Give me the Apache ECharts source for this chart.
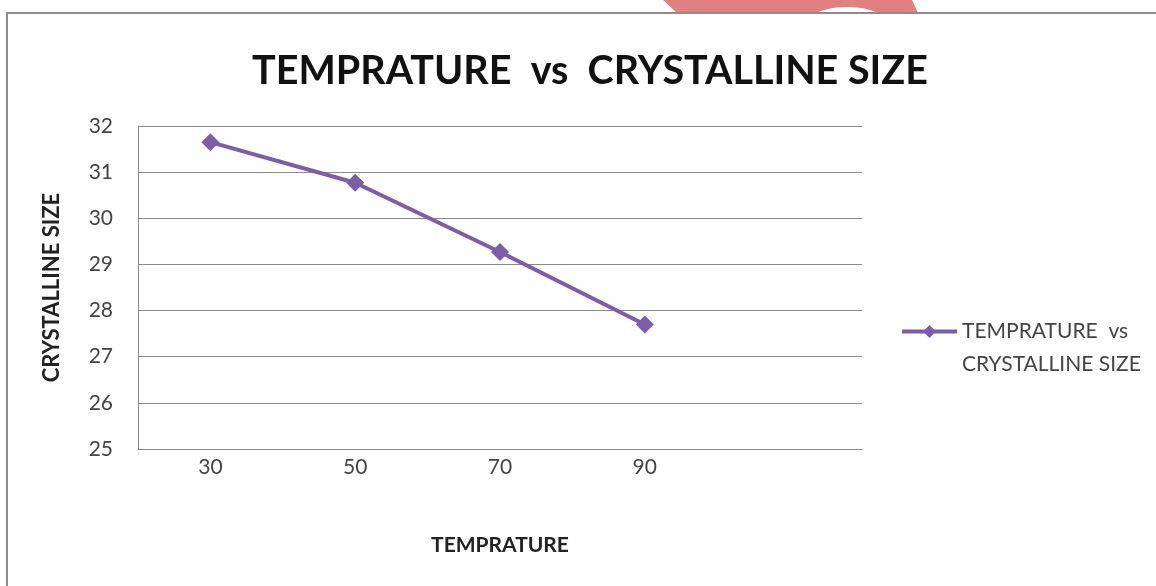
<!DOCTYPE html>
<html>
<head>
<meta charset="utf-8">
<script src="https://cdn.jsdelivr.net/npm/echarts@6/dist/echarts.min.js"></script>
<style>html,body{margin:0;padding:0;background:#fff}#c{width:1156px;height:586px}</style>
</head>
<body>
<div id="c"></div>
<script>
const categories = ['30', '50', '70', '90', ''];
const crystallineSize = [31.65, 30.77, 29.27, 27.7];
const seriesName = 'TEMPRATURE  vs\nCRYSTALLINE SIZE';
const yTicks = {min: 25, max: 32, interval: 1};

const chart = echarts.init(document.getElementById('c'), null, {renderer: 'canvas'});
const FONT = 'Lato';
chart.setOption({
  animation: false,
  backgroundColor: '#fff',
  title: {
    text: 'TEMPRATURE  vs  CRYSTALLINE SIZE',
    left: 585, top: 46, textAlign: 'center',
    textStyle: {fontFamily: FONT, fontWeight: 'bold', fontSize: 39.5, color: '#111'}
  },
  graphic: [
    {type: 'polygon', shape: {points: [[663,0],[677,13],[918,13],[912,0]]}, style: {fill: '#e08080'}, z: 1},
    {type: 'ellipse', shape: {cx: 847, cy: 20, rx: 36, ry: 13}, style: {fill: '#fff'}, z: 2},
    {type: 'rect', shape: {x: 7, y: 13, width: 1200, height: 620}, style: {fill: 'none', stroke: '#8c8c8c', lineWidth: 2}, z: 3}
  ],
  grid: {left: 138, right: 294, top: 126, bottom: 137},
  legend: {
    left: 900, top: 282, padding: 0,
    itemWidth: 55, itemHeight: 16, itemGap: 0,
    data: [seriesName],
    formatter: function (n) { return '\n' + n; },
    lineStyle: {width: 4},
    textStyle: {fontFamily: FONT, fontSize: 21, color: '#444', lineHeight: 33}
  },
  xAxis: {
    type: 'category', data: categories, boundaryGap: true,
    name: 'TEMPRATURE', nameLocation: 'middle', nameGap: 86,
    nameTextStyle: {fontFamily: FONT, fontWeight: 'bold', fontSize: 21, color: '#222'},
    axisLine: {show: true, lineStyle: {color: '#888', width: 1}},
    axisTick: {show: false},
    axisLabel: {fontFamily: FONT, fontSize: 21, color: '#444', margin: 8}
  },
  yAxis: {
    type: 'value', min: yTicks.min, max: yTicks.max, interval: yTicks.interval,
    name: 'CRYSTALLINE SIZE', nameLocation: 'middle', nameGap: 75, nameRotate: 90,
    nameTextStyle: {fontFamily: FONT, fontWeight: 'bold', fontSize: 22, color: '#222'},
    axisLine: {show: true, lineStyle: {color: '#888', width: 1}},
    axisTick: {show: false},
    axisLabel: {fontFamily: FONT, fontSize: 21, color: '#444', margin: 25},
    splitLine: {show: true, lineStyle: {color: '#8a8a8a', width: 1}}
  },
  series: [{
    name: seriesName, type: 'line', data: crystallineSize,
    symbol: 'diamond', symbolSize: 18,
    lineStyle: {color: '#7b5ea7', width: 4},
    itemStyle: {color: '#7b5ea7'}
  }]
});
</script>
</body>
</html>
